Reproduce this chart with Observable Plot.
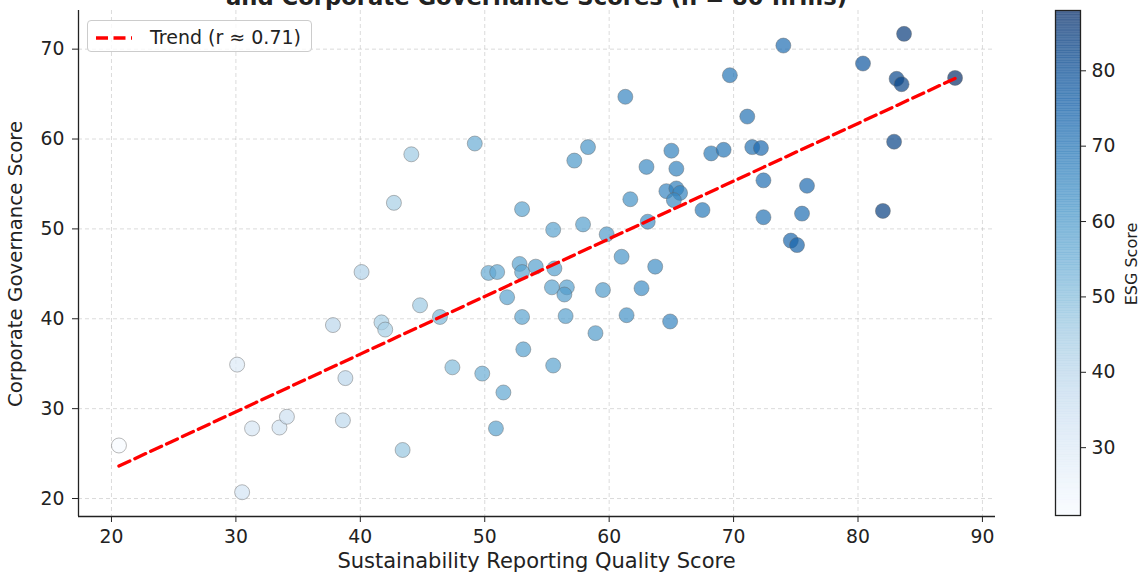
<!DOCTYPE html>
<html>
<head>
<meta charset="utf-8">
<script src="https://cdn.jsdelivr.net/npm/d3@7"></script>
<script src="https://cdn.jsdelivr.net/npm/@observablehq/plot@0.6"></script>
<style>
  html, body { margin: 0; padding: 0; background: #fff; }
  #wrap { position: relative; width: 1142px; height: 576px; overflow: hidden; font-family: "DejaVu Sans", sans-serif; color: #222; }
  .abs { position: absolute; white-space: nowrap; }
  #title { left: 0; width: 1073px; text-align: center; top: -14.5px; font-size: 22.7px; line-height: 22.7px; font-weight: bold; }
  #xlabel { left: 78px; width: 917px; text-align: center; top: 549px; font-size: 21px; line-height: 24px; }
  #ylabel { left: 15.5px; top: 264px; font-size: 19.8px; line-height: 22px; transform: translate(-50%, -50%) rotate(-90deg); }
  #cblabel { left: 1132px; top: 264px; font-size: 16px; line-height: 18px; transform: translate(-50%, -50%) rotate(-90deg); }
  #legend { left: 87px; top: 20px; width: 225px; height: 32px; border: 1px solid #cccccc; border-radius: 4px; background: rgba(255,255,255,0.8); box-sizing: border-box; }
  #legend svg { position: absolute; left: 6px; top: 14px; }
  #legend span { position: absolute; left: 62px; top: 5px; font-size: 19px; line-height: 22px; }
</style>
</head>
<body>
<div id="wrap">
  <div id="main" class="abs" style="left:0;top:0"></div>
  <div id="cbar" class="abs" style="left:1000px;top:0"></div>
  <div id="title" class="abs"></div>
  <div id="xlabel" class="abs"></div>
  <div id="ylabel" class="abs"></div>
  <div id="cblabel" class="abs"></div>
  <div id="legend" class="abs">
    <svg width="40" height="6"><line x1="2" y1="3" x2="38" y2="3" stroke="red" stroke-width="3.3" stroke-dasharray="12,5.5"/></svg>
    <span id="legtext"></span>
  </div>
</div>
<script>
// ---- Data ----
const reportingQuality = [
  20.6, 30.5, 30.1, 31.3, 33.5, 34.1, 37.8, 38.8, 38.6, 40.1,
  41.7, 42.0, 43.4, 44.8, 46.4, 47.4, 49.8, 50.9, 51.5, 50.3,
  51.0, 51.8, 53.0, 53.1, 52.8, 53.0, 54.1, 44.1, 49.2, 42.7,
  53.0, 55.6, 55.5, 57.9, 59.8, 61.0, 63.7, 57.2, 58.3, 61.7,
  61.3, 63.0, 63.1, 65.0, 65.4, 64.6, 65.4, 65.7, 65.2, 67.5,
  69.7, 68.2, 69.2, 71.1, 71.5, 72.2, 72.4, 72.4, 74.0, 75.9,
  75.5, 74.6, 75.1, 80.4, 83.7, 83.1, 83.5, 87.8, 82.9, 82.0,
  55.4, 56.6, 56.4, 59.5, 62.6, 56.5, 61.4, 64.9, 58.9, 55.5
];
const governance = [
  25.9, 20.7, 34.9, 27.8, 27.9, 29.1, 39.3, 33.4, 28.7, 45.2,
  39.6, 38.8, 25.4, 41.5, 40.2, 34.6, 33.9, 27.8, 31.8, 45.1,
  45.2, 42.4, 40.2, 36.6, 46.1, 45.2, 45.8, 58.3, 59.5, 52.9,
  52.2, 45.6, 49.9, 50.5, 49.4, 46.9, 45.8, 57.6, 59.1, 53.3,
  64.7, 56.9, 50.8, 58.7, 56.7, 54.2, 54.5, 54.0, 53.2, 52.1,
  67.1, 58.4, 58.8, 62.5, 59.1, 59.0, 55.4, 51.3, 70.4, 54.8,
  51.7, 48.7, 48.2, 68.4, 71.7, 66.7, 66.1, 66.8, 59.7, 52.0,
  43.5, 43.5, 42.7, 43.2, 43.4, 40.3, 40.4, 39.7, 38.4, 34.8
];
const esgScore = [
  21, 33, 30, 32, 34, 35, 40, 40, 39, 42,
  44, 44, 47, 46, 52, 51, 55, 58, 57, 56,
  57, 58, 58, 59, 58, 58, 59, 46, 55, 44,
  58, 59, 58, 59, 60, 62, 64, 61, 62, 63,
  66, 65, 64, 67, 67, 66, 68, 67, 65, 69,
  70, 69, 70, 71, 71, 73, 72, 71, 72, 73,
  72, 74, 75, 78, 85, 82, 83, 88, 83, 84,
  58, 59, 60, 60, 64, 59, 63, 66, 60, 58
];
const xTicks = [20, 30, 40, 50, 60, 70, 80, 90];
const yTicks = [20, 30, 40, 50, 60, 70];
const cbTicks = [30, 40, 50, 60, 70, 80];
const titleText = "and Corporate Governance Scores (n = 80 firms)";
const xLabelText = "Sustainability Reporting Quality Score";
const yLabelText = "Corporate Governance Score";
const cbLabelText = "ESG Score";
const legendText = "Trend (r ≈ 0.71)";

// ---- Build ----
const data = reportingQuality.map((x, i) => ({x, y: governance[i], esg: esgScore[i]}));
const esgExtent = d3.extent(esgScore);
const xDomain = [17.35, 91.05];
const yDomain = [18.0, 74.3];
const gridStyle = {stroke: "#b0b0b0", strokeOpacity: 0.45, strokeDasharray: "4,3", strokeWidth: 1};
const colorOpts = {type: "linear", scheme: "blues", domain: esgExtent};
const tickFont = 18.8;

const main = Plot.plot({
  width: 1000, height: 576,
  marginLeft: 78, marginRight: 5, marginTop: 10, marginBottom: 60,
  style: {fontFamily: "DejaVu Sans, sans-serif", fontSize: tickFont + "px", color: "#222", background: "transparent"},
  x: {domain: xDomain},
  y: {domain: yDomain},
  color: colorOpts,
  marks: [
    Plot.ruleX(xTicks, gridStyle),
    Plot.ruleY(yTicks, gridStyle),
    Plot.dot(data, {x: "x", y: "y", r: 7.5, fill: "esg", fillOpacity: 0.7, stroke: "#666", strokeOpacity: 0.45, strokeWidth: 1}),
    Plot.linearRegressionY(data, {x: "x", y: "y", ci: 0, stroke: "red", strokeWidth: 3.3, strokeDasharray: "12,5.5"}),
    Plot.ruleX([xDomain[0]], {stroke: "#222", strokeWidth: 1.3}),
    Plot.ruleY([yDomain[0]], {stroke: "#222", strokeWidth: 1.3}),
    Plot.axisX({ticks: xTicks, tickSize: 6, tickPadding: 7, fontSize: tickFont, label: null, tickFormat: d => String(d)}),
    Plot.axisY({ticks: yTicks, tickSize: 6, tickPadding: 8, fontSize: tickFont, label: null, tickFormat: d => String(d)})
  ]
});
document.getElementById("main").appendChild(main);

// colorbar
const nSteps = 200;
const cbSteps = d3.range(nSteps).map(i => {
  const a = esgExtent[0] + (esgExtent[1] - esgExtent[0]) * i / nSteps;
  const b = esgExtent[0] + (esgExtent[1] - esgExtent[0]) * (i + 1) / nSteps;
  return {y1: a, y2: Math.min(b + 0.05, esgExtent[1]), v: (a + b) / 2};
});
const cbar = Plot.plot({
  width: 142, height: 576,
  marginLeft: 55, marginRight: 62, marginTop: 10, marginBottom: 61,
  style: {fontFamily: "DejaVu Sans, sans-serif", fontSize: tickFont + "px", color: "#222", background: "transparent"},
  x: {domain: [0, 1], axis: null},
  y: {domain: esgExtent, axis: null},
  color: colorOpts,
  marks: [
    Plot.rect(cbSteps, {x1: 0, x2: 1, y1: "y1", y2: "y2", fill: "v", fillOpacity: 0.7}),
    Plot.frame({stroke: "#222", strokeWidth: 1.3}),
    Plot.axisY({anchor: "right", ticks: cbTicks, tickSize: 5, tickPadding: 6, fontSize: tickFont, label: null, tickFormat: d => String(d)})
  ]
});
document.getElementById("cbar").appendChild(cbar);

document.getElementById("title").textContent = titleText;
document.getElementById("xlabel").textContent = xLabelText;
document.getElementById("ylabel").textContent = yLabelText;
document.getElementById("cblabel").textContent = cbLabelText;
document.getElementById("legtext").textContent = legendText;
</script>
</body>
</html>
